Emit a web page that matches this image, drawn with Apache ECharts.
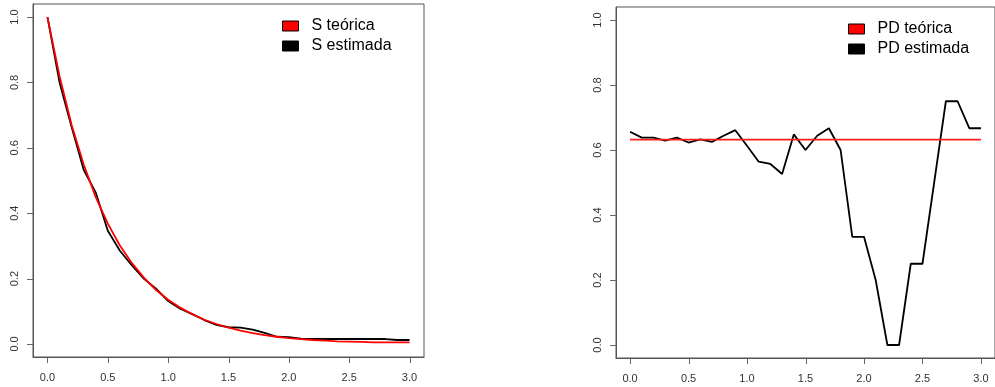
<!DOCTYPE html>
<html>
<head>
<meta charset="utf-8">
<script src="https://cdn.jsdelivr.net/npm/echarts@6/dist/echarts.min.js"></script>
<style>html,body{margin:0;padding:0;background:#fff}#c{width:995px;height:387px}</style>
</head>
<body>
<div id="c"></div>
<script>
// ---- data ----
var tiempos = [0.0,0.1,0.2,0.3,0.4,0.5,0.6,0.7,0.8,0.9,1.0,1.1,1.2,1.3,1.4,1.5,1.6,1.7,1.8,1.9,2.0,2.1,2.2,2.3,2.4,2.5,2.6,2.7,2.8,2.9,3.0];
var sTeorica = [1.000,0.819,0.670,0.549,0.449,0.368,0.301,0.247,0.202,0.165,0.135,0.111,0.091,0.074,0.061,0.050,0.041,0.033,0.027,0.022,0.018,0.015,0.012,0.010,0.008,0.007,0.006,0.005,0.005,0.005,0.005];
var sEstimada = [1.000,0.800,0.664,0.533,0.463,0.346,0.285,0.240,0.199,0.169,0.131,0.108,0.091,0.073,0.058,0.051,0.050,0.044,0.034,0.022,0.021,0.016,0.015,0.015,0.015,0.015,0.015,0.015,0.015,0.012,0.012];
var pdTeoricaX = [0.0, 3.0];
var pdTeorica = [0.632, 0.632];
var pdEstimada = [0.656,0.638,0.638,0.629,0.638,0.623,0.633,0.625,0.644,0.661,0.613,0.564,0.557,0.526,0.648,0.600,0.644,0.667,0.600,0.333,0.333,0.200,0.000,0.000,0.250,0.250,0.500,0.750,0.750,0.667,0.667];
var xTicks = [0.0,0.5,1.0,1.5,2.0,2.5,3.0];
var yTicks = [0.0,0.2,0.4,0.6,0.8,1.0];

function pairs(xs, ys){ return xs.map(function(x,i){ return [x, ys[i]]; }); }

var FONT = 'Liberation Sans, Arial, sans-serif';
var labelStyle = {color:'#333', fontSize:11, fontFamily:FONT};
var XMIN = -0.12, XMAX = 3.12, YMIN = -0.04, YMAX = 1.04;

function xAxis(gi){
  return {
    type:'value', gridIndex:gi, min:XMIN, max:XMAX,
    axisLine:{show:true, onZero:false, lineStyle:{color:'#555', width:1}}, splitLine:{show:false},
    axisTick:{show:false},
    axisLabel:Object.assign({margin:15, customValues:xTicks, formatter:function(v){return v.toFixed(1);}}, labelStyle)
  };
}
function yAxis(gi){
  return {
    type:'value', gridIndex:gi, min:YMIN, max:YMAX,
    axisLine:{show:true, onZero:false, lineStyle:{color:'#555', width:1}}, splitLine:{show:false},
    axisTick:{show:false},
    axisLabel:Object.assign({margin:13, rotate:90, customValues:yTicks, formatter:function(v){return v.toFixed(1);}}, labelStyle)
  };
}
function legend(left, top, names){
  return {
    orient:'vertical', left:left, top:top, data:names,
    icon:'rect', itemWidth:16, itemHeight:10, itemGap:4,
    itemStyle:{borderColor:'#000', borderWidth:1},
    textStyle:{color:'#000', fontSize:16, fontFamily:FONT, lineHeight:16, padding:[0,0,0,8]},
    selectedMode:false
  };
}

var chart = echarts.init(document.getElementById('c'), null, {renderer:'canvas'});
chart.setOption({
  animation:false,
  backgroundColor:'#fff',
  grid:[
    {left:33, top:4, width:391, height:353, show:true, borderColor:'#555', borderWidth:1, backgroundColor:'transparent'},
    {left:616, top:7, width:388, height:351, show:true, borderColor:'#555', borderWidth:1, backgroundColor:'transparent'}
  ],
  xAxis:[xAxis(0), xAxis(1)],
  yAxis:[yAxis(0), yAxis(1)],
  legend:[
    legend(277, 13, ['S teórica','S estimada']),
    legend(843, 16, ['PD teórica','PD estimada'])
  ],
  series:[
    {name:'S estimada', type:'line', xAxisIndex:0, yAxisIndex:0, data:pairs(tiempos, sEstimada), showSymbol:false, symbol:'none',
     lineStyle:{color:'#000', width:1.8}, itemStyle:{color:'#000'}},
    {name:'S teórica', type:'line', xAxisIndex:0, yAxisIndex:0, data:pairs(tiempos, sTeorica), showSymbol:false, symbol:'none',
     lineStyle:{color:'#ff0000', width:1.8}, itemStyle:{color:'#ff0000'}},
    {name:'PD estimada', type:'line', xAxisIndex:1, yAxisIndex:1, data:pairs(tiempos, pdEstimada), showSymbol:false, symbol:'none',
     lineStyle:{color:'#000', width:1.8}, itemStyle:{color:'#000'}},
    {name:'PD teórica', type:'line', xAxisIndex:1, yAxisIndex:1, data:pairs(pdTeoricaX, pdTeorica), showSymbol:false, symbol:'none',
     lineStyle:{color:'#ff2020', width:1.8}, itemStyle:{color:'#ff0000'}}
  ]
});

// outward tick marks, placed through the axes' own scales
var tickEls = [];
[0,1].forEach(function(p){
  var bottom = chart.convertToPixel({yAxisIndex:p}, YMIN);
  var left = chart.convertToPixel({xAxisIndex:p}, XMIN);
  xTicks.forEach(function(v){
    var px = Math.round(chart.convertToPixel({xAxisIndex:p}, v)) + 0.5;
    tickEls.push({type:'line', silent:true, shape:{x1:px, y1:bottom, x2:px, y2:bottom + 6}, style:{stroke:'#666', lineWidth:1}});
  });
  yTicks.forEach(function(v){
    var py = Math.round(chart.convertToPixel({yAxisIndex:p}, v)) + 0.5;
    tickEls.push({type:'line', silent:true, shape:{x1:left - 6, y1:py, x2:left, y2:py}, style:{stroke:'#666', lineWidth:1}});
  });
});
chart.setOption({graphic:tickEls});
</script>
</body>
</html>
